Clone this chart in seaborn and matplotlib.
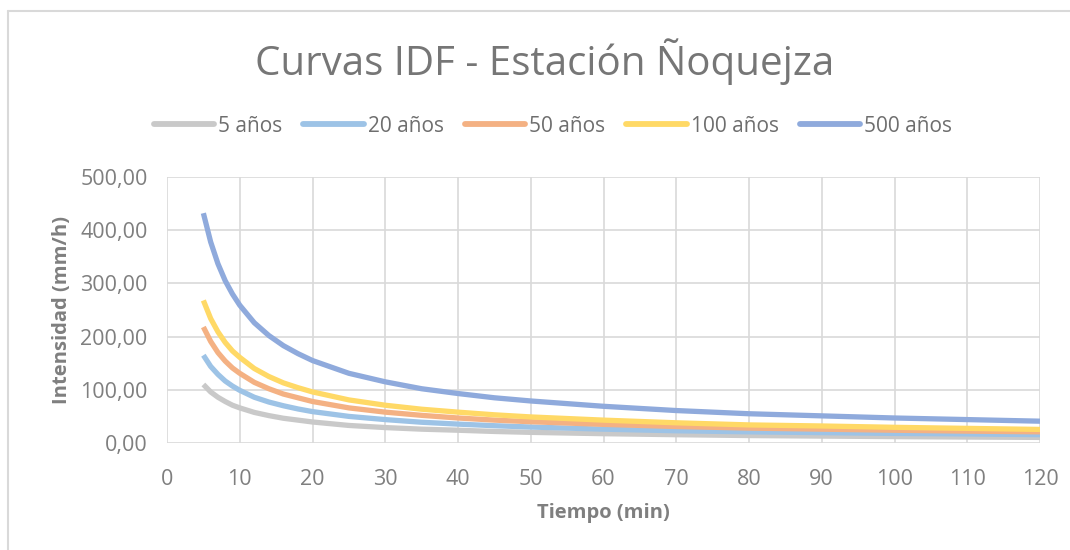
import matplotlib
matplotlib.use("Agg")
import matplotlib.pyplot as plt
import seaborn as sns
import pandas as pd
from matplotlib.lines import Line2D

# Data
tiempo = [5, 6, 7, 8, 9, 10, 12, 14, 16, 18, 20, 25, 30, 35, 40, 45, 50, 60, 70, 80, 90, 100, 110, 120]
i_5 = [110, 96, 86, 78, 71, 66, 57.5, 51.5, 46.5, 43, 39.5, 33, 29, 26, 24, 21.7, 20, 17.5, 15.6, 14, 13, 12, 11.2, 10.5]
i_20 = [165, 144, 129, 116.5, 107, 99, 86, 77, 70, 64, 59, 50, 44, 39, 35.5, 32.5, 30, 26, 23, 21, 19.5, 18, 17, 15.7]
i_50 = [218, 191, 170, 154, 141, 131, 114, 102, 92, 85, 78, 66, 58, 52, 47, 43, 40, 35, 31, 28, 26, 24, 22.3, 21]
i_100 = [268, 234, 209, 189, 173, 161, 140, 125, 113, 104, 96, 81, 71, 63.5, 58, 53, 49, 43, 38, 34, 32, 29.5, 27.5, 25.5]
i_500 = [432, 378, 337, 305, 280, 259, 226, 202, 183, 168, 155, 131, 115, 102, 93, 85, 79, 69, 61, 55, 51, 47, 44, 41]
series_names = ["5 años", "20 años", "50 años", "100 años", "500 años"]
colors = ["#C9C9C9", "#9DC3E6", "#F4B183", "#FFD966", "#8FAADC"]
y_ticks = [0, 100, 200, 300, 400, 500]
y_ticklabels = ["0,00", "100,00", "200,00", "300,00", "400,00", "500,00"]

rows = []
for name, vals in zip(series_names, [i_5, i_20, i_50, i_100, i_500]):
    for t, v in zip(tiempo, vals):
        rows.append({"Tiempo": t, "Intensidad": v, "Serie": name})
df = pd.DataFrame(rows)

sns.set_style("white")
plt.rcParams['font.family'] = ['Open Sans', 'DejaVu Sans']

fig = plt.figure(figsize=(10.7, 5.5), dpi=100)
ax = fig.add_axes([167/1070, 1-443/550, (1040-167)/1070, (443-177)/550])

sns.lineplot(data=df, x="Tiempo", y="Intensidad", hue="Serie", hue_order=series_names,
             palette=colors, linewidth=3.8, ax=ax, legend=False, solid_capstyle="butt")

ax.set_xlim(0, 120)
ax.set_ylim(0, 500)
ax.set_xticks(range(0, 121, 10))
ax.set_yticks(y_ticks)
ax.set_yticklabels(y_ticklabels)
ax.grid(True, color="#D9D9D9", linewidth=1.2)
ax.set_axisbelow(True)
for s in ax.spines.values():
    s.set_visible(False)
ax.tick_params(axis="both", length=0, labelsize=15.5, colors="#7F7F7F")
ax.tick_params(axis="x", pad=19)
ax.tick_params(axis="y", pad=14)
ax.set_xlabel("Tiempo (min)", fontsize=14.5, fontweight="bold", color="#7F7F7F", labelpad=9)
ax.set_ylabel("Intensidad (mm/h)", fontsize=14.5, fontweight="bold", color="#7F7F7F", labelpad=6)

fig.text(545/1070, 1-62/550, "Curvas IDF - Estación Ñoquejza", ha="center", va="center",
         fontsize=29, color="#767676")

handles = [Line2D([0], [0], color=c, lw=4.2) for c in colors]
fig.legend(handles, series_names, loc="center", bbox_to_anchor=(553/1070, 1-126/550),
           ncol=5, frameon=False, fontsize=15, labelcolor="#6E6E6E",
           handlelength=2.9, handletextpad=0.2, columnspacing=1.0)

# chart border (left and top)
fig.add_artist(Line2D([8/1070, 8/1070], [0, 1-11/550], color="#D9D9D9", lw=1.5, transform=fig.transFigure))
fig.add_artist(Line2D([8/1070, 1], [1-11/550, 1-11/550], color="#D9D9D9", lw=1.5, transform=fig.transFigure))

fig.savefig("out.png", dpi=100)
